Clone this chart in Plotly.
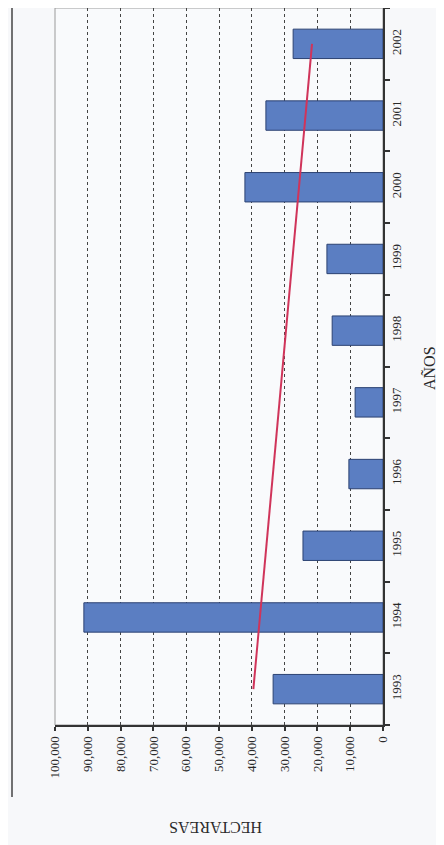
import numpy as np
import plotly.graph_objects as go

years = ["1993", "1994", "1995", "1996", "1997", "1998", "1999", "2000", "2001", "2002"]
hectareas = [33500, 91200, 24400, 10400, 8500, 15500, 17100, 42100, 35700, 27400]
value_ticks = [0, 10000, 20000, 30000, 40000, 50000, 60000, 70000, 80000, 90000, 100000]

# linear trend line (least-squares fit of the bar values, as in the original chart)
idx = np.arange(len(years))
slope, intercept = np.polyfit(idx, hectareas, 1)
trend = (slope * idx + intercept).tolist()

FONT = "Liberation Serif, Times New Roman, serif"

# the page body has an 8px margin; figure is sized to fill the rest of the window
W, H = 436, 837
L, R, T, B = 47, 61, 0, 120
PW, PH = W - L - R, H - T - B

fig = go.Figure()
fig.add_trace(go.Bar(
    x=hectareas, y=years, orientation="h",
    marker=dict(color="#5b7ec2", line=dict(color="#2c4272", width=1)),
    showlegend=False,
))
fig.add_trace(go.Scatter(
    x=trend, y=years, mode="lines",
    line=dict(color="#d0345a", width=2),
    showlegend=False,
))

fig.update_layout(
    width=W, height=H,
    margin=dict(l=L, r=R, t=T, b=B),
    paper_bgcolor="#f7f8fa",
    plot_bgcolor="#f9fafc",
    bargap=0.59,
    font=dict(family=FONT, size=13, color="#2a2a2a"),
    xaxis=dict(
        range=[100000, 0],
        tickvals=value_ticks,
        tickformat=",",
        tickangle=-90,
        ticks="outside", ticklen=4, tickwidth=1.5, tickcolor="#333",
        showline=True, linecolor="#333", linewidth=2,
        showgrid=True, gridcolor="#444", griddash="dot", gridwidth=1,
        zeroline=False,
        tickfont=dict(family=FONT, size=13, color="#2a2a2a"),
    ),
    yaxis=dict(
        type="category",
        categoryorder="array", categoryarray=years,
        side="right",
        tickangle=-90,
        tickson="boundaries",
        ticks="outside", ticklen=5, tickwidth=1.5, tickcolor="#333",
        showline=True, linecolor="#333", linewidth=2,
        showgrid=False, zeroline=False,
        tickfont=dict(family=FONT, size=13, color="#2a2a2a"),
    ),
    shapes=[
        dict(type="rect", xref="paper", yref="paper", x0=0, x1=1, y0=0, y1=1,
             line=dict(color="#9a9a9a", width=1), layer="below"),
        dict(type="line", xref="paper", yref="paper",
             x0=(4 - L) / PW, x1=(4 - L) / PW, y0=1 + T / PH, y1=-(789 - PH) / PH,
             line=dict(color="#444", width=1.5)),
    ],
    annotations=[
        dict(text="HECTAREAS", xref="paper", yref="paper",
             x=(208 - L) / PW, y=-(820 - PH) / PH,
             showarrow=False, textangle=180,
             font=dict(family=FONT, size=16, color="#2a2a2a"),
             xanchor="center", yanchor="middle"),
        dict(text="AÑOS", xref="paper", yref="paper",
             x=(421 - L) / PW, y=(PH - 360) / PH,
             showarrow=False, textangle=-90,
             font=dict(family=FONT, size=16, color="#2a2a2a"),
             xanchor="center", yanchor="middle"),
    ],
)

fig.write_html("out.html")
